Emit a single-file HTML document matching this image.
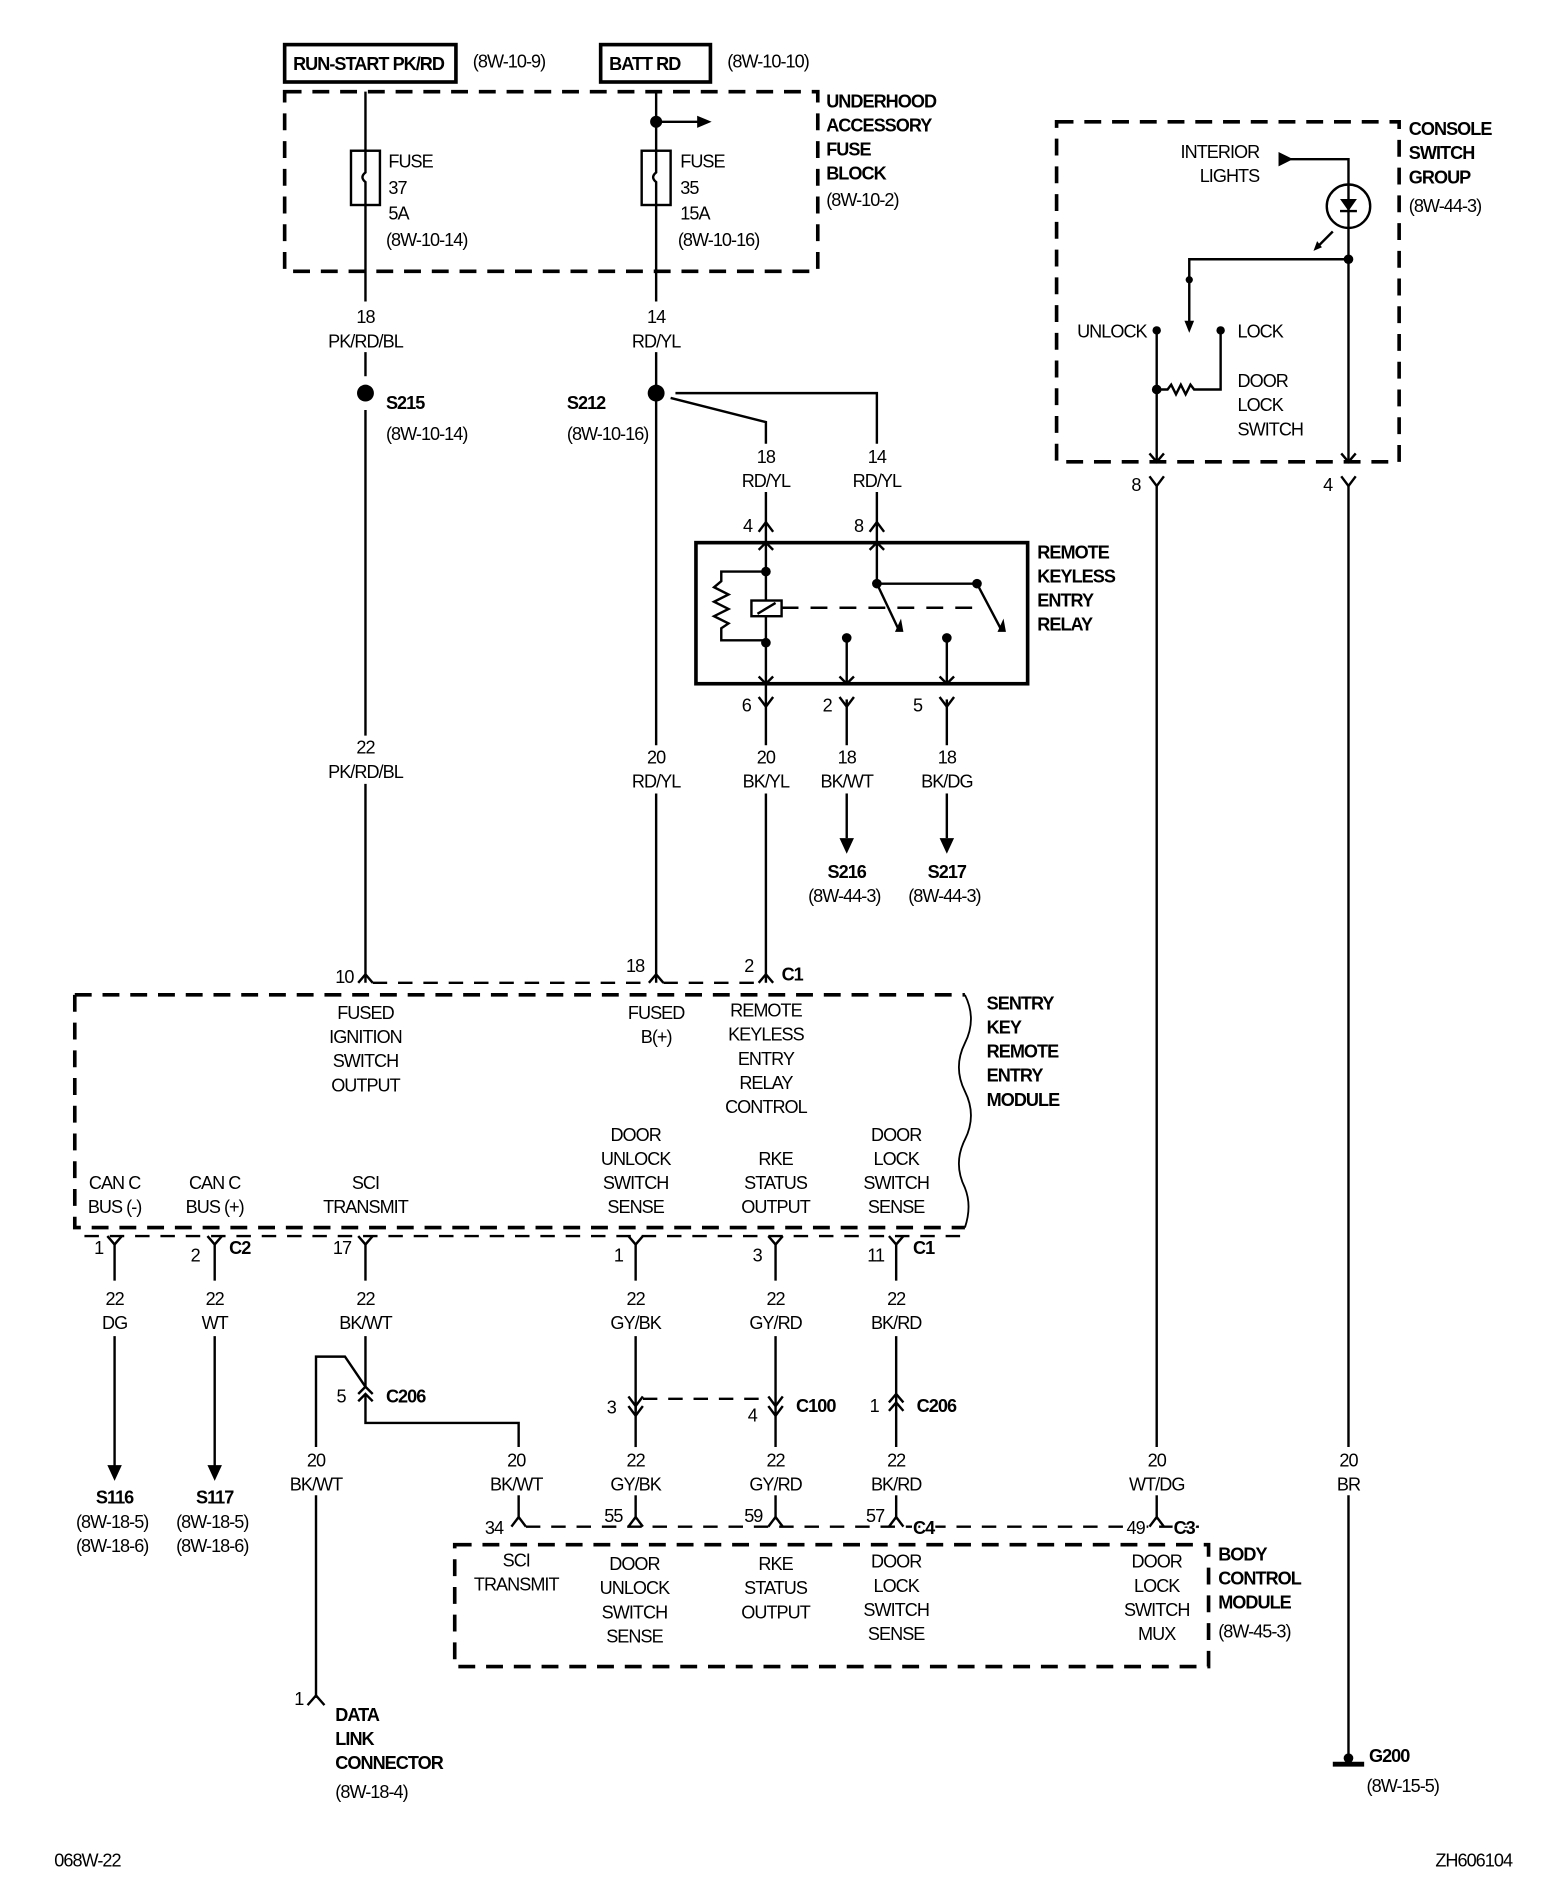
<!DOCTYPE html>
<html><head><meta charset="utf-8"><style>
html,body{margin:0;padding:0;background:#fff;}
svg{display:block;}
text{font-family:"Liberation Sans",sans-serif;font-size:15px;letter-spacing:-0.8px;fill:#000;paint-order:stroke;stroke:#fff;stroke-width:3px;stroke-linejoin:round;}
.b{font-weight:bold;}
.m{text-anchor:middle;}
.e{text-anchor:end;}
</style></head><body>
<svg width="1568" height="1886" viewBox="0 0 1300 1564" preserveAspectRatio="none" xmlns="http://www.w3.org/2000/svg">
<g fill="none" stroke="#000" stroke-width="2">
<rect x="236" y="37" width="142" height="31" stroke-width="3"/>
<rect x="498" y="37" width="91" height="31" stroke-width="3"/>
<rect x="236" y="76" width="442" height="149" stroke-width="3" stroke-dasharray="14,9"/>
<line x1="303" y1="76" x2="303" y2="250"/>
<rect x="291" y="125" width="24" height="45" fill="#fff"/>
<path d="M303 125 v18 q-5 4 0 8 v19"/>
<line x1="544" y1="76" x2="544" y2="250"/>
<line x1="544" y1="101" x2="580" y2="101"/>
<rect x="532" y="125" width="24" height="45" fill="#fff"/>
<path d="M544 125 v18 q-5 4 0 8 v19"/>
<line x1="303" y1="292" x2="303" y2="312"/>
<line x1="303" y1="340" x2="303" y2="610"/>
<line x1="303" y1="650" x2="303" y2="815"/>
<line x1="544" y1="292" x2="544" y2="618"/>
<line x1="544" y1="658" x2="544" y2="815"/>
<path d="M556 330 L635 350 V368"/>
<path d="M560 326 H727 V368"/>
<line x1="635" y1="408" x2="635" y2="567"/>
<line x1="727" y1="408" x2="727" y2="484"/>
<rect x="577" y="450" width="275" height="117" stroke-width="3"/>
<path d="M635 474 H598 v8 l-6 5 l12 6 l-12 6 l12 6 l-12 6 l12 6 l-6 4 v10 H635"/>
<rect x="623" y="498" width="25" height="13" fill="#fff"/>
<line x1="628" y1="509" x2="643" y2="500"/>
<line x1="648" y1="504" x2="812" y2="504" stroke-dasharray="14,10"/>
<path d="M727 484 L745 522"/>
<path d="M727 484 H810 L830 522"/>
<line x1="702" y1="529" x2="702" y2="567"/>
<line x1="785" y1="529" x2="785" y2="567"/>
<line x1="635" y1="567" x2="635" y2="618"/>
<line x1="702" y1="580" x2="702" y2="618"/>
<line x1="785" y1="580" x2="785" y2="618"/>
<line x1="635" y1="658" x2="635" y2="815"/>
<line x1="702" y1="658" x2="702" y2="695"/>
<line x1="785" y1="658" x2="785" y2="695"/>
<path d="M629 441 L635 433 L641 441"/><path d="M721 441 L727 433 L733 441"/>
<path d="M629 456 L635 450 L641 456"/><path d="M721 456 L727 450 L733 456"/>
<path d="M629 561 L635 567 L641 561"/><path d="M696 561 L702 567 L708 561"/><path d="M779 561 L785 567 L791 561"/>
<path d="M629 578 L635 586 L641 578"/><path d="M696 578 L702 586 L708 578"/><path d="M779 578 L785 586 L791 578"/>
<path d="M62 825 H800" stroke-width="3" stroke-dasharray="14,9"/>
<path d="M62 825 V1018 H800" stroke-width="3" stroke-dasharray="14,9"/>
<path d="M800 825 q10 20 0 40 q-10 20 0 40 q10 20 0 40 q-10 20 0 40 q6 15 0 33" stroke-width="1.5"/>
<path d="M280 815 H297 M309 815 H538 M550 815 H629" stroke-dasharray="12,9"/>
<path d="M297 815 L303 808 L309 815 M538 815 L544 808 L550 815 M629 815 L635 808 L641 815"/>
<path d="M70 1025 H800" stroke-dasharray="12,9"/>
<path d="M89 1025 L95 1032 L101 1025"/><path d="M172 1025 L178 1032 L184 1025"/>
<path d="M297 1025 L303 1032 L309 1025"/><path d="M521 1025 L527 1032 L533 1025"/>
<path d="M637 1025 L643 1032 L649 1025"/><path d="M737 1025 L743 1032 L749 1025"/>
<line x1="95" y1="1032" x2="95" y2="1062"/><line x1="178" y1="1032" x2="178" y2="1062"/>
<line x1="303" y1="1032" x2="303" y2="1062"/><line x1="527" y1="1032" x2="527" y2="1062"/>
<line x1="643" y1="1032" x2="643" y2="1062"/><line x1="743" y1="1032" x2="743" y2="1062"/>
<line x1="95" y1="1108" x2="95" y2="1218"/><line x1="178" y1="1108" x2="178" y2="1218"/>
<line x1="303" y1="1108" x2="303" y2="1150"/>
<path d="M262 1200 V1125 H286 L303 1150"/>
<path d="M297 1156 L303 1150 L309 1156 M297 1162 L303 1156 L309 1162"/>
<path d="M303 1156 V1180 H430 V1200"/>
<line x1="262" y1="1240" x2="262" y2="1408"/>
<path d="M255 1414 L262 1406 L269 1414"/>
<line x1="527" y1="1108" x2="527" y2="1170"/>
<path d="M521 1158 L527 1166 L533 1158 M521 1166 L527 1174 L533 1166"/>
<line x1="527" y1="1166" x2="527" y2="1200"/>
<line x1="533" y1="1160" x2="637" y2="1160" stroke-dasharray="12,9"/>
<line x1="643" y1="1108" x2="643" y2="1200"/>
<path d="M637 1158 L643 1166 L649 1158 M637 1166 L643 1174 L649 1166"/>
<line x1="743" y1="1108" x2="743" y2="1200"/>
<path d="M737 1163 L743 1156 L749 1163 M737 1170 L743 1163 L749 1170"/>
<line x1="430" y1="1240" x2="430" y2="1258"/><line x1="527" y1="1240" x2="527" y2="1258"/>
<line x1="643" y1="1240" x2="643" y2="1258"/><line x1="743" y1="1240" x2="743" y2="1258"/>
<path d="M436 1266 H1000" stroke-dasharray="12,9"/>
<path d="M424 1266 L430 1258 L436 1266 M521 1266 L527 1258 L533 1266 M637 1266 L643 1258 L649 1266 M737 1266 L743 1258 L749 1266 M953 1266 L959 1258 L965 1266"/>
<rect x="377" y="1281" width="625" height="101" stroke-width="3" stroke-dasharray="14,9"/>
<rect x="876" y="101" width="284" height="282" stroke-width="3" stroke-dasharray="14,9"/>
<path d="M1070 132 H1118 V153"/>
<circle cx="1118" cy="171" r="18"/>
<path d="M1118 153 V215"/>
<path d="M1111 175 H1125"/>
<path d="M1105 192 L1093 204"/>
<path d="M1118 215 H986 V268"/>
<line x1="1118" y1="215" x2="1118" y2="383"/>
<line x1="959" y1="274" x2="959" y2="383"/>
<path d="M959 323 H968 l3 -4 l4 8 l4 -8 l4 8 l4 -8 l3 4 H1012 V274"/>
<path d="M953 376 L959 383 L965 376 M1112 376 L1118 383 L1124 376"/>
<path d="M953 395 L959 403 L965 395 M1112 395 L1118 403 L1124 395"/>
<line x1="959" y1="403" x2="959" y2="1200"/>
<line x1="1118" y1="403" x2="1118" y2="1200"/>
<line x1="959" y1="1240" x2="959" y2="1258"/>
<line x1="1118" y1="1240" x2="1118" y2="1458"/>
<line x1="1105" y1="1463" x2="1131" y2="1463" stroke-width="4"/>
</g>
<g fill="#000" stroke="none">
<circle cx="544" cy="101" r="5"/>
<polygon points="578,96 590,101 578,106"/>
<circle cx="303" cy="326" r="7"/><circle cx="544" cy="326" r="7"/>
<circle cx="635" cy="474" r="4"/><circle cx="635" cy="533" r="4"/>
<circle cx="727" cy="484" r="4"/><circle cx="810" cy="484" r="4"/>
<circle cx="702" cy="529" r="4"/><circle cx="785" cy="529" r="4"/>
<polygon points="742,524 749,524 747,513"/>
<polygon points="827,524 834,524 832,513"/>
<polygon points="696,695 708,695 702,708"/><polygon points="779,695 791,695 785,708"/>
<polygon points="89,1215 101,1215 95,1228"/><polygon points="172,1215 184,1215 178,1228"/>
<polygon points="1060,126 1060,138 1072,132"/>
<polygon points="1111,165 1125,165 1118,175"/>
<polygon points="1089,208 1096,205 1092,200"/>
<circle cx="1118" cy="215" r="4"/><circle cx="986" cy="232" r="3"/>
<polygon points="982,266 990,266 986,276"/>
<circle cx="959" cy="274" r="3.5"/><circle cx="1012" cy="274" r="3.5"/>
<circle cx="959" cy="323" r="4"/>
<circle cx="1118" cy="1458" r="4"/>
</g>
<text x="243" y="58" class="b">RUN-START PK/RD</text>
<text x="392" y="56">(8W-10-9)</text>
<text x="505" y="58" class="b">BATT RD</text>
<text x="603" y="56">(8W-10-10)</text>
<text x="322" y="139">FUSE</text><text x="322" y="161">37</text><text x="322" y="182">5A</text><text x="320" y="204">(8W-10-14)</text>
<text x="564" y="139">FUSE</text><text x="564" y="161">35</text><text x="564" y="182">15A</text><text x="562" y="204">(8W-10-16)</text>
<text x="685" y="89" class="b">UNDERHOOD</text><text x="685" y="109" class="b">ACCESSORY</text><text x="685" y="129" class="b">FUSE</text><text x="685" y="149" class="b">BLOCK</text><text x="685" y="171">(8W-10-2)</text>
<text x="303" y="268" class="m">18</text><text x="303" y="288" class="m">PK/RD/BL</text>
<text x="544" y="268" class="m">14</text><text x="544" y="288" class="m">RD/YL</text>
<text x="320" y="339" class="b">S215</text><text x="320" y="365">(8W-10-14)</text>
<text x="470" y="339" class="b">S212</text><text x="470" y="365">(8W-10-16)</text>
<text x="635" y="384" class="m">18</text><text x="635" y="404" class="m">RD/YL</text>
<text x="727" y="384" class="m">14</text><text x="727" y="404" class="m">RD/YL</text>
<text x="616" y="441">4</text><text x="708" y="441">8</text>
<text x="860" y="463" class="b">REMOTE</text><text x="860" y="483" class="b">KEYLESS</text><text x="860" y="503" class="b">ENTRY</text><text x="860" y="523" class="b">RELAY</text>
<text x="615" y="590">6</text><text x="682" y="590">2</text><text x="757" y="590">5</text>
<text x="303" y="625" class="m">22</text><text x="303" y="645" class="m">PK/RD/BL</text>
<text x="544" y="633" class="m">20</text><text x="544" y="653" class="m">RD/YL</text>
<text x="635" y="633" class="m">20</text><text x="635" y="653" class="m">BK/YL</text>
<text x="702" y="633" class="m">18</text><text x="702" y="653" class="m">BK/WT</text>
<text x="785" y="633" class="m">18</text><text x="785" y="653" class="m">BK/DG</text>
<text x="702" y="728" class="m b">S216</text><text x="700" y="748" class="m">(8W-44-3)</text>
<text x="785" y="728" class="m b">S217</text><text x="783" y="748" class="m">(8W-44-3)</text>
<text x="278" y="815">10</text><text x="519" y="806">18</text><text x="617" y="806">2</text><text x="648" y="813" class="b">C1</text>
<text x="303" y="845" class="m">FUSED</text><text x="303" y="865" class="m">IGNITION</text><text x="303" y="885" class="m">SWITCH</text><text x="303" y="905" class="m">OUTPUT</text>
<text x="544" y="845" class="m">FUSED</text><text x="544" y="865" class="m">B(+)</text>
<text x="635" y="843" class="m">REMOTE</text><text x="635" y="863" class="m">KEYLESS</text><text x="635" y="883" class="m">ENTRY</text><text x="635" y="903" class="m">RELAY</text><text x="635" y="923" class="m">CONTROL</text>
<text x="818" y="837" class="b">SENTRY</text><text x="818" y="857" class="b">KEY</text><text x="818" y="877" class="b">REMOTE</text><text x="818" y="897" class="b">ENTRY</text><text x="818" y="917" class="b">MODULE</text>
<text x="95" y="986" class="m">CAN C</text><text x="95" y="1006" class="m">BUS (-)</text>
<text x="178" y="986" class="m">CAN C</text><text x="178" y="1006" class="m">BUS (+)</text>
<text x="303" y="986" class="m">SCI</text><text x="303" y="1006" class="m">TRANSMIT</text>
<text x="527" y="946" class="m">DOOR</text><text x="527" y="966" class="m">UNLOCK</text><text x="527" y="986" class="m">SWITCH</text><text x="527" y="1006" class="m">SENSE</text>
<text x="643" y="966" class="m">RKE</text><text x="643" y="986" class="m">STATUS</text><text x="643" y="1006" class="m">OUTPUT</text>
<text x="743" y="946" class="m">DOOR</text><text x="743" y="966" class="m">LOCK</text><text x="743" y="986" class="m">SWITCH</text><text x="743" y="1006" class="m">SENSE</text>
<text x="78" y="1040">1</text><text x="158" y="1046">2</text><text x="190" y="1040" class="b">C2</text><text x="276" y="1040">17</text>
<text x="509" y="1046">1</text><text x="624" y="1046">3</text><text x="719" y="1046">11</text><text x="757" y="1040" class="b">C1</text>
<text x="95" y="1082" class="m">22</text><text x="95" y="1102" class="m">DG</text>
<text x="178" y="1082" class="m">22</text><text x="178" y="1102" class="m">WT</text>
<text x="303" y="1082" class="m">22</text><text x="303" y="1102" class="m">BK/WT</text>
<text x="527" y="1082" class="m">22</text><text x="527" y="1102" class="m">GY/BK</text>
<text x="643" y="1082" class="m">22</text><text x="643" y="1102" class="m">GY/RD</text>
<text x="743" y="1082" class="m">22</text><text x="743" y="1102" class="m">BK/RD</text>
<text x="279" y="1163">5</text><text x="320" y="1163" class="b">C206</text>
<text x="503" y="1172">3</text><text x="620" y="1179">4</text><text x="660" y="1171" class="b">C100</text>
<text x="721" y="1171">1</text><text x="760" y="1171" class="b">C206</text>
<text x="95" y="1247" class="m b">S116</text><text x="93" y="1267" class="m">(8W-18-5)</text><text x="93" y="1287" class="m">(8W-18-6)</text>
<text x="178" y="1247" class="m b">S117</text><text x="176" y="1267" class="m">(8W-18-5)</text><text x="176" y="1287" class="m">(8W-18-6)</text>
<text x="262" y="1216" class="m">20</text><text x="262" y="1236" class="m">BK/WT</text>
<text x="428" y="1216" class="m">20</text><text x="428" y="1236" class="m">BK/WT</text>
<text x="527" y="1216" class="m">22</text><text x="527" y="1236" class="m">GY/BK</text>
<text x="643" y="1216" class="m">22</text><text x="643" y="1236" class="m">GY/RD</text>
<text x="743" y="1216" class="m">22</text><text x="743" y="1236" class="m">BK/RD</text>
<text x="959" y="1216" class="m">20</text><text x="959" y="1236" class="m">WT/DG</text>
<text x="1118" y="1216" class="m">20</text><text x="1118" y="1236" class="m">BR</text>
<text x="402" y="1272">34</text><text x="501" y="1262">55</text><text x="617" y="1262">59</text><text x="718" y="1262">57</text><text x="757" y="1272" class="b">C4</text>
<text x="934" y="1272">49</text><text x="973" y="1272" class="b">C3</text>
<text x="428" y="1299" class="m">SCI</text><text x="428" y="1319" class="m">TRANSMIT</text>
<text x="526" y="1302" class="m">DOOR</text><text x="526" y="1322" class="m">UNLOCK</text><text x="526" y="1342" class="m">SWITCH</text><text x="526" y="1362" class="m">SENSE</text>
<text x="643" y="1302" class="m">RKE</text><text x="643" y="1322" class="m">STATUS</text><text x="643" y="1342" class="m">OUTPUT</text>
<text x="743" y="1300" class="m">DOOR</text><text x="743" y="1320" class="m">LOCK</text><text x="743" y="1340" class="m">SWITCH</text><text x="743" y="1360" class="m">SENSE</text>
<text x="959" y="1300" class="m">DOOR</text><text x="959" y="1320" class="m">LOCK</text><text x="959" y="1340" class="m">SWITCH</text><text x="959" y="1360" class="m">MUX</text>
<text x="1010" y="1294" class="b">BODY</text><text x="1010" y="1314" class="b">CONTROL</text><text x="1010" y="1334" class="b">MODULE</text><text x="1010" y="1358">(8W-45-3)</text>
<text x="244" y="1414">1</text>
<text x="278" y="1427" class="b">DATA</text><text x="278" y="1447" class="b">LINK</text><text x="278" y="1467" class="b">CONNECTOR</text><text x="278" y="1491">(8W-18-4)</text>
<text x="1135" y="1461" class="b">G200</text><text x="1133" y="1486">(8W-15-5)</text>
<text x="1168" y="112" class="b">CONSOLE</text><text x="1168" y="132" class="b">SWITCH</text><text x="1168" y="152" class="b">GROUP</text><text x="1168" y="176">(8W-44-3)</text>
<text x="1044" y="131" class="e">INTERIOR</text><text x="1044" y="151" class="e">LIGHTS</text>
<text x="893" y="280">UNLOCK</text><text x="1026" y="280">LOCK</text>
<text x="1026" y="321">DOOR</text><text x="1026" y="341">LOCK</text><text x="1026" y="361">SWITCH</text>
<text x="938" y="407">8</text><text x="1097" y="407">4</text>
<text x="45" y="1548">068W-22</text><text x="1190" y="1548">ZH606104</text>
</svg>
</body></html>
